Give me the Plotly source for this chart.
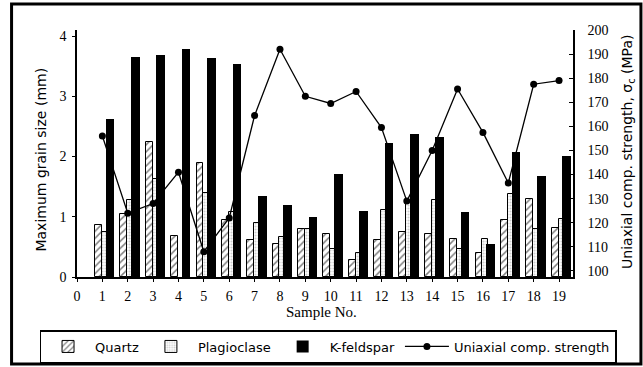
import plotly.graph_objects as go

samples = list(range(1, 20))
quartz = [0.86, 1.04, 2.24, 0.68, 1.90, 0.95, 0.62, 0.55, 0.79, 0.71, 0.29, 0.62, 0.75, 0.71, 0.63, 0.40, 0.95, 1.29, 0.82]
plagioclase = [0.75, 1.28, 1.63, None, 1.40, 1.08, 0.89, 0.67, 0.79, 0.46, 0.40, 1.12, 1.25, 1.28, 0.47, 0.63, 1.38, 0.79, 0.96]
kfeldspar = [2.62, 3.65, 3.68, 3.78, 3.64, 3.54, 1.34, 1.20, 0.99, 1.71, 1.10, 2.22, 2.38, 2.33, 1.08, 0.54, 2.07, 1.67, 2.01]
ucs = [156, 124, 128, 141, 108, 122, 164.5, 192, 172.5, 169.5, 174.5, 159.5, 129, 150, 175.5, 157.5, 136.5, 177.5, 179]

left_ticks = [0, 1, 2, 3, 4]
right_ticks = list(range(100, 201, 10))
x_ticks = list(range(0, 20))

serif = "Liberation Serif"
sans = "DejaVu Sans"

fig = go.Figure()
fig.add_trace(go.Bar(
    x=samples, y=quartz, name="Quartz", offset=-0.29, width=0.27,
    marker=dict(color="white", line=dict(color="black", width=1),
                pattern=dict(shape="/", fgcolor="black", bgcolor="white", size=5, solidity=0.3)),
))
fig.add_trace(go.Bar(
    x=samples, y=plagioclase, name="Plagioclase", offset=-0.02, width=0.23,
    marker=dict(color="white", line=dict(color="black", width=1),
                pattern=dict(shape=".", fgcolor="#9a9a9a", bgcolor="white", size=3, solidity=0.4)),
))
fig.add_trace(go.Bar(
    x=samples, y=kfeldspar, name="K-feldspar", offset=0.13, width=0.34,
    marker=dict(color="black", line=dict(color="black", width=0)),
))
fig.add_trace(go.Scatter(
    x=samples, y=ucs, name="Uniaxial comp. strength", yaxis="y2", mode="lines+markers",
    line=dict(color="black", width=1.3), marker=dict(color="black", size=7, symbol="circle"),
))

W, H = 643, 367
L, R, T, B = 76.5, 573, 30, 277
pw, ph = R - L, B - T

def px(x):
    return (x - L) / pw

def py(y):
    return (B - y) / ph

fig.update_layout(
    width=W, height=H,
    margin=dict(l=L, r=W - R, t=T, b=H - B, pad=0, autoexpand=False),
    paper_bgcolor="white", plot_bgcolor="white",
    barmode="overlay", bargap=0,
    showlegend=True,
    legend=dict(orientation="h", x=px(39), y=py(330), xanchor="left", yanchor="top",
                bordercolor="black", borderwidth=1.5, bgcolor="white",
                font=dict(family=sans, size=13, color="black"),
                traceorder="normal", itemwidth=44),
    xaxis=dict(range=[0, 19.55], tickvals=x_ticks, ticktext=[str(v) for v in x_ticks],
               showgrid=False, zeroline=False, showline=True, linecolor="black", linewidth=1.5,
               ticks="outside", ticklen=3, tickcolor="black", tickwidth=1.2,
               ticklabelstandoff=2,
               tickfont=dict(family=serif, size=14, color="black")),
    yaxis=dict(range=[0, 4.1], tickvals=left_ticks, showgrid=False, zeroline=False,
               showline=True, linecolor="black", linewidth=1.5, ticks="outside", ticklen=3,
               tickcolor="black", tickwidth=1.2, ticklabelstandoff=3,
               tickfont=dict(family=serif, size=14, color="black")),
    yaxis2=dict(range=[97.5, 200], tickvals=right_ticks, overlaying="y", side="right",
                showgrid=False, zeroline=False, showline=True, linecolor="black", linewidth=1.5,
                ticks="inside", ticklen=4, tickcolor="black", tickwidth=1.2,
                ticklabelstandoff=10,
                tickfont=dict(family=serif, size=14, color="black")),
    font=dict(family=serif, color="black"),
)

fig.add_annotation(text="Maximum grain size (mm)", xref="paper", yref="paper",
                   x=px(40), y=py(160), xanchor="center", yanchor="middle",
                   textangle=-90, showarrow=False,
                   font=dict(family=sans, size=14, color="black"))
fig.add_annotation(text="Uniaxial comp. strength, σ<sub>c</sub> (MPa)", xref="paper", yref="paper",
                   x=px(628), y=py(152), xanchor="center", yanchor="middle",
                   textangle=-90, showarrow=False,
                   font=dict(family=sans, size=14, color="black"))
fig.add_annotation(text="Sample No.", xref="paper", yref="paper",
                   x=px(321), y=py(312), xanchor="center", yanchor="middle", showarrow=False,
                   font=dict(family=serif, size=15, color="black"))

fig.add_shape(type="rect", xref="paper", yref="paper",
              x0=px(11), x1=px(641), y0=py(364), y1=py(4),
              line=dict(color="black", width=3), layer="below")

fig.write_html("out.html")
